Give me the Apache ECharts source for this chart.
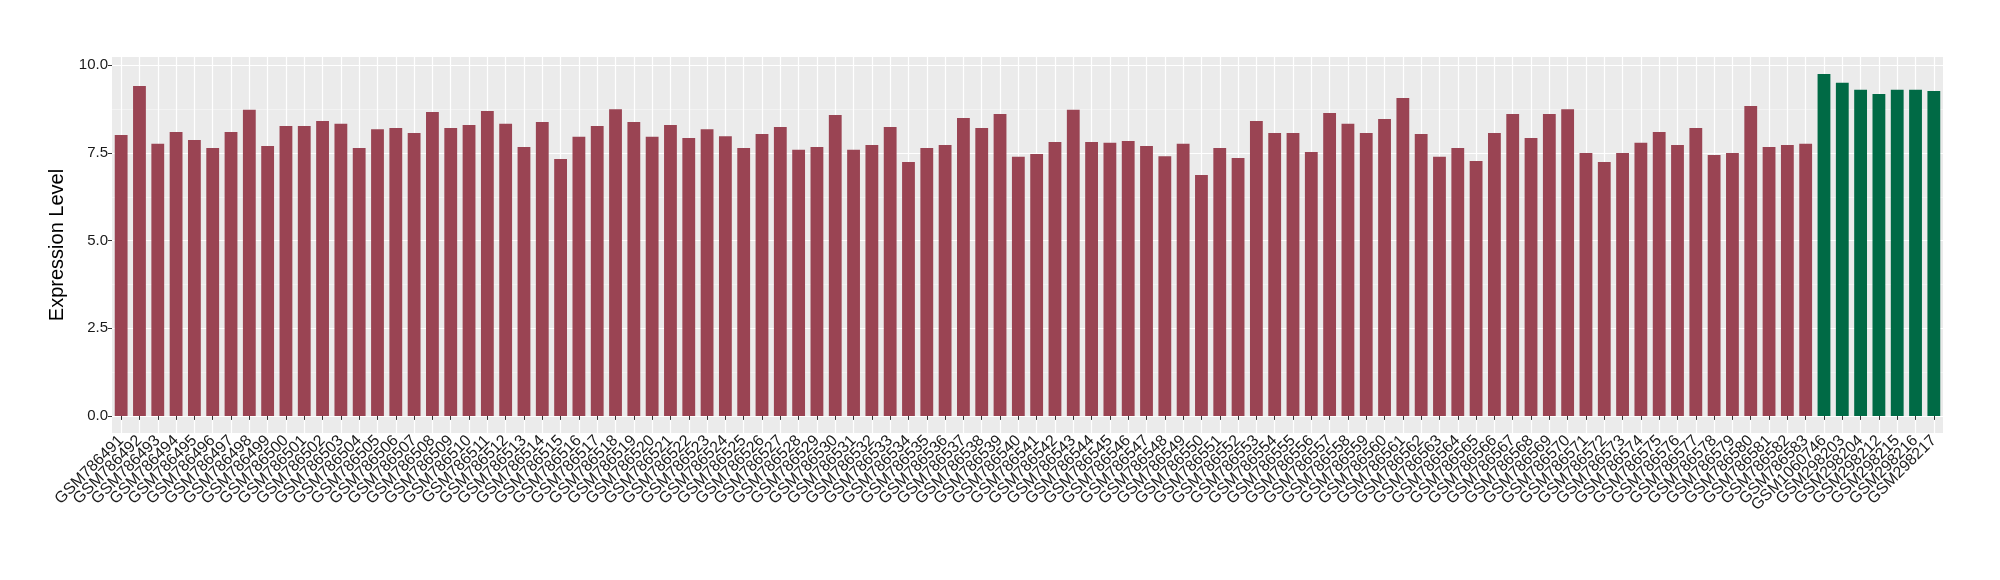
<!DOCTYPE html>
<html>
<head>
<meta charset="utf-8">
<script src="https://cdn.jsdelivr.net/npm/echarts@6/dist/echarts.min.js"></script>
<style>
  html, body { margin: 0; padding: 0; background: #fff; }
  #chart { width: 2000px; height: 580px; }
</style>
</head>
<body>
<div id="chart"></div>
<script>
// sample names
var tumorNames = [
  "GSM786491", "GSM786492", "GSM786493", "GSM786494", "GSM786495", "GSM786496", "GSM786497", "GSM786498",
  "GSM786499", "GSM786500", "GSM786501", "GSM786502", "GSM786503", "GSM786504", "GSM786505", "GSM786506",
  "GSM786507", "GSM786508", "GSM786509", "GSM786510", "GSM786511", "GSM786512", "GSM786513", "GSM786514",
  "GSM786515", "GSM786516", "GSM786517", "GSM786518", "GSM786519", "GSM786520", "GSM786521", "GSM786522",
  "GSM786523", "GSM786524", "GSM786525", "GSM786526", "GSM786527", "GSM786528", "GSM786529", "GSM786530",
  "GSM786531", "GSM786532", "GSM786533", "GSM786534", "GSM786535", "GSM786536", "GSM786537", "GSM786538",
  "GSM786539", "GSM786540", "GSM786541", "GSM786542", "GSM786543", "GSM786544", "GSM786545", "GSM786546",
  "GSM786547", "GSM786548", "GSM786549", "GSM786550", "GSM786551", "GSM786552", "GSM786553", "GSM786554",
  "GSM786555", "GSM786556", "GSM786557", "GSM786558", "GSM786559", "GSM786560", "GSM786561", "GSM786562",
  "GSM786563", "GSM786564", "GSM786565", "GSM786566", "GSM786567", "GSM786568", "GSM786569", "GSM786570",
  "GSM786571", "GSM786572", "GSM786573", "GSM786574", "GSM786575", "GSM786576", "GSM786577", "GSM786578",
  "GSM786579", "GSM786580", "GSM786581", "GSM786582", "GSM786583"
];
var normalNames = ["GSM1060746", "GSM298203", "GSM298204", "GSM298212", "GSM298215", "GSM298216", "GSM298217"];

// expression values
var tumorValues = [
  8.01, 9.41, 7.76, 8.10, 7.87, 7.64, 8.10, 8.73, 7.70, 8.27,
  8.27, 8.41, 8.33, 7.64, 8.18, 8.21, 8.07, 8.67, 8.21, 8.30,
  8.70, 8.33, 7.67, 8.38, 7.33, 7.96, 8.27, 8.75, 8.38, 7.96,
  8.30, 7.93, 8.18, 7.98, 7.64, 8.04, 8.24, 7.59, 7.67, 8.58,
  7.59, 7.73, 8.24, 7.24, 7.64, 7.73, 8.50, 8.21, 8.61, 7.39,
  7.47, 7.81, 8.73, 7.81, 7.79, 7.84, 7.70, 7.41, 7.76, 6.87,
  7.64, 7.36, 8.41, 8.07, 8.07, 7.53, 8.64, 8.33, 8.07, 8.47,
  9.07, 8.04, 7.39, 7.64, 7.27, 8.07, 8.61, 7.93, 8.61, 8.75,
  7.50, 7.24, 7.50, 7.79, 8.10, 7.73, 8.21, 7.44, 7.50, 8.84,
  7.67, 7.73, 7.76
];
var normalValues = [9.75, 9.50, 9.30, 9.18, 9.30, 9.30, 9.27];

var yTicks = [0, 2.5, 5, 7.5, 10];
var yMinorTicks = [1.25, 3.75, 6.25, 8.75];

var categories = tumorNames.concat(normalNames);
var tumorData = tumorValues.concat(normalNames.map(function () { return null; }));
var normalData = tumorNames.map(function () { return null; }).concat(normalValues);

var yMin = -0.4875, yMax = 10.2375;

var chart = echarts.init(document.getElementById("chart"));
chart.setOption({
  animation: false,
  backgroundColor: "#ffffff",
  grid: {
    left: 112,
    right: 57,
    top: 57,
    bottom: 147,
    show: true,
    backgroundColor: "#EBEBEB",
    borderWidth: 0
  },
  xAxis: {
    type: "category",
    data: categories,
    axisLine: { show: false },
    axisTick: { show: true, alignWithLabel: true, interval: 0, length: 4, lineStyle: { color: "#333" } },
    splitLine: { show: true, alignWithLabel: true, interval: 0, lineStyle: { color: "#ffffff", width: 1.2 } },
    axisLabel: {
      interval: 0,
      rotate: 45,
      margin: 5,
      fontFamily: "Liberation Sans",
      fontSize: 16,
      color: "#1a1a1a"
    }
  },
  yAxis: [
    {
      type: "value",
      min: yMin,
      max: yMax,
      name: "Expression Level",
      nameLocation: "middle",
      nameRotate: 90,
      nameGap: 38,
      nameTextStyle: { fontFamily: "Liberation Sans", fontSize: 20, color: "#000" },
      axisLine: { show: false },
      axisTick: { show: true, length: 4, customValues: yTicks, lineStyle: { color: "#333" } },
      axisLabel: {
        customValues: yTicks,
        margin: 4,
        fontFamily: "Liberation Sans",
        fontSize: 15,
        color: "#1a1a1a",
        formatter: function (v) { return v.toFixed(1); }
      },
      splitLine: { show: true, lineStyle: { color: "#ffffff", width: 1.2 } }
    },
    {
      type: "value",
      min: yMin,
      max: yMax,
      position: "left",
      axisLine: { show: false },
      axisTick: { show: false, customValues: yMinorTicks },
      axisLabel: { show: false, customValues: yMinorTicks },
      splitLine: { show: true, lineStyle: { color: "#f7f7f7", width: 0.7 } }
    }
  ],
  series: [
    {
      name: "Tumor",
      type: "bar",
      stack: "expr",
      barWidth: "70%",
      data: tumorData,
      itemStyle: { color: "#9A4453" }
    },
    {
      name: "Normal",
      type: "bar",
      stack: "expr",
      barWidth: "70%",
      data: normalData,
      itemStyle: { color: "#006A45" }
    }
  ]
});
</script>
</body>
</html>
